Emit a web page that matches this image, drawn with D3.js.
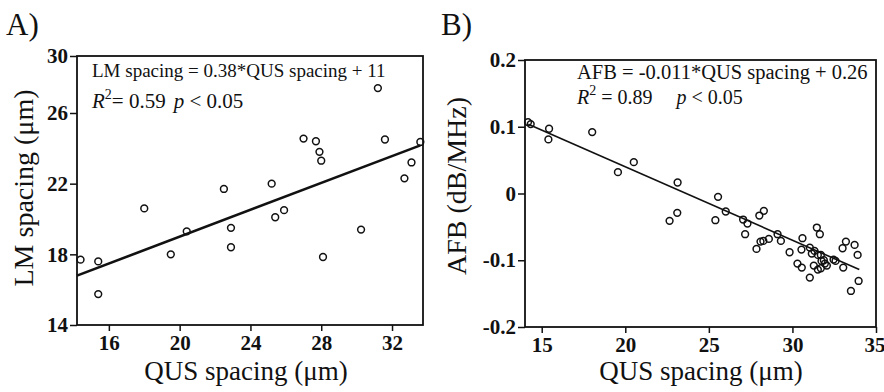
<!DOCTYPE html>
<html>
<head>
<meta charset="utf-8">
<script src="https://cdn.jsdelivr.net/npm/d3@7"></script>
<style>
body { margin: 0; background: #fff; }
svg text { font-family: "Liberation Serif", "DejaVu Serif", serif; fill: #111; }
.tick line { stroke: #111; stroke-width: 1.5; }
</style>
</head>
<body>
<div id="chart"></div>
<script>
// A) LM spacing against QUS spacing (um)
var qusA = [31.2, 31.6, 27.0, 27.7, 27.9, 28.0, 33.6, 33.1, 32.7, 22.5, 25.2, 18.0,
            20.4, 22.9, 22.9, 25.4, 25.9, 19.5, 14.4, 15.4, 15.4, 28.1, 30.25];
var lmA  = [27.75, 24.5, 24.55, 24.4, 23.8, 23.3, 24.36, 23.2, 22.3, 21.7, 22.0, 20.6,
            19.3, 19.5, 18.4, 20.1, 20.5, 18.0, 17.7, 17.6, 15.75, 17.85, 19.4];
var fitA = {slope: 0.38, icept: 11.4, from: 14.2, to: 33.6};
var xTicksA = [16, 20, 24, 28, 32];
var yTicksA = [14, 18, 22, 26, 30];

// B) AFB (dB/MHz) against QUS spacing (um)
var qusB = [14.18, 14.34, 15.44, 15.40, 18.02, 19.56, 20.51, 23.13, 22.65, 23.11,
            25.55, 25.39, 26.01, 27.05, 27.31, 27.17, 28.02, 28.29, 27.85, 28.09,
            28.26, 28.59, 29.11, 29.31, 29.83, 30.60, 30.54, 30.30, 30.56, 31.04,
            31.04, 31.16, 31.32, 31.46, 31.64, 31.52, 31.70, 31.28, 31.52, 31.70,
            31.88, 31.94, 32.06, 31.74, 32.46, 32.58, 33.00, 33.20, 33.04, 33.72,
            33.90, 33.96, 33.50];
var afbB = [0.107, 0.104, 0.097, 0.081, 0.092, 0.032, 0.047, 0.0165, -0.041, -0.029,
            -0.005, -0.040, -0.027, -0.039, -0.045, -0.061, -0.033, -0.026, -0.083, -0.072,
            -0.071, -0.068, -0.061, -0.071, -0.088, -0.067, -0.084, -0.105, -0.111, -0.126,
            -0.081, -0.090, -0.086, -0.051, -0.061, -0.092, -0.092, -0.108, -0.114, -0.112,
            -0.100, -0.105, -0.108, -0.101, -0.099, -0.101, -0.082, -0.072, -0.111, -0.077,
            -0.092, -0.131, -0.146];
var fitB = {slope: -0.011, icept: 0.26, from: 14.2, to: 34.0};
var xTicksB = [15, 20, 25, 30, 35];
var yTicksB = [-0.2, -0.1, 0, 0.1, 0.2];

var serif = '"Liberation Serif", "DejaVu Serif", serif';

svg = d3.select("#chart").append("svg").attr("width", 884).attr("height", 392);

// the LM axis is drawn with a squeezed top segment (26-30)
var xA = d3.scaleLinear().domain([14.2, 33.75]).range([77, 423]);
var yA = d3.scaleLinear().domain([14, 26, 30]).range([325, 113, 56]);
var xB = d3.scaleLinear().domain([14, 35]).range([525, 876]);
var yB = d3.scaleLinear().domain([-0.2, 0.2]).range([327, 60]);

function fmtB(d) {
    if (d == 0) return "0";
    return d3.format(".1f")(d).replace("\u2212", "-");
}

drawPanel(xA, yA, xTicksA, yTicksA, null, qusA, lmA, fitA, 2.6);
drawPanel(xB, yB, xTicksB, yTicksB, fmtB, qusB, afbB, fitB, 1.6);

// panel letters
label(6, 35, 31, "A)");
label(441, 35, 31, "B)");

// axis titles
label(246, 380, 27, "QUS spacing (\u03bcm)").attr("text-anchor", "middle");
label(701, 380, 27, "QUS spacing (\u03bcm)").attr("text-anchor", "middle");
label(0, 0, 28, "LM spacing (\u03bcm)").attr("transform", "translate(33,188) rotate(-90)")
    .attr("text-anchor", "middle");
label(0, 0, 28, "AFB (dB/MHz)").attr("transform", "translate(466,186) rotate(-90)")
    .attr("text-anchor", "middle");

// fit equations
label(92, 77, 19, "LM spacing = 0.38*QUS spacing + 11");
stats(92, 108, 21, "= 0.59", 8);

label(577, 79, 20.5, "AFB = -0.011*QUS spacing + 0.26");
stats(577, 104, 20, " = 0.89", 24);

function label(x, y, size, txt) {
    return svg.append("text").attr("x", x).attr("y", y)
        .style("font-family", serif).style("font-size", size + "px").text(txt);
}

function stats(x, y, size, r2, gap) {
    var t = label(x, y, size, null);
    t.append("tspan").style("font-style", "italic").text("R");
    t.append("tspan").attr("dy", -9).style("font-size", "14px").text("2");
    t.append("tspan").attr("dy", 9).text(r2);
    t.append("tspan").attr("dx", gap).style("font-style", "italic").text("p");
    t.append("tspan").text(" < 0.05");
}

function drawPanel(x, y, xt, yt, yfmt, xs, ys, fit, lw) {
    var g = svg.append("g");
    var x0 = x.range()[0], x1 = x.range()[1];
    var y0 = y.range()[0], y1 = y.range()[y.range().length - 1];

    var xa = g.append("g").attr("transform", "translate(0," + y0 + ")")
        .call(d3.axisBottom(x).tickValues(xt).tickSize(6).tickPadding(3));
    xa.selectAll("text").attr("dy", "0.75em");
    var ya = d3.axisLeft(y).tickValues(yt).tickSize(7).tickPadding(2);
    if (yfmt) ya.tickFormat(yfmt);
    var yg = g.append("g").attr("transform", "translate(" + x0 + ",0)").call(ya);

    [xa, yg].forEach(function(a) {
        a.select(".domain").remove();
        a.selectAll("text").style("font-family", serif).style("font-weight", "bold")
            .style("font-size", "21px").attr("fill", "#111");
    });
    // last x label sits against the page edge
    if (x1 > 860) xa.selectAll("text").filter(function(d) { return d == xt[xt.length - 1]; })
        .attr("text-anchor", "end").attr("dx", "9");

    g.append("rect").attr("x", x0).attr("y", y1).attr("width", x1 - x0).attr("height", y0 - y1)
        .attr("fill", "none").attr("stroke", "#111").attr("stroke-width", 1.8);

    g.append("line")
        .attr("x1", x(fit.from)).attr("y1", y(fit.slope * fit.from + fit.icept))
        .attr("x2", x(fit.to)).attr("y2", y(fit.slope * fit.to + fit.icept))
        .attr("stroke", "#111").attr("stroke-width", lw);

    g.selectAll("circle").data(xs).enter().append("circle")
        .attr("cx", function(d) { return x(d); })
        .attr("cy", function(d, i) { return y(ys[i]); })
        .attr("r", 3.4)
        .attr("fill", "none").attr("stroke", "#111").attr("stroke-width", 1.5);
}
</script>
</body>
</html>
